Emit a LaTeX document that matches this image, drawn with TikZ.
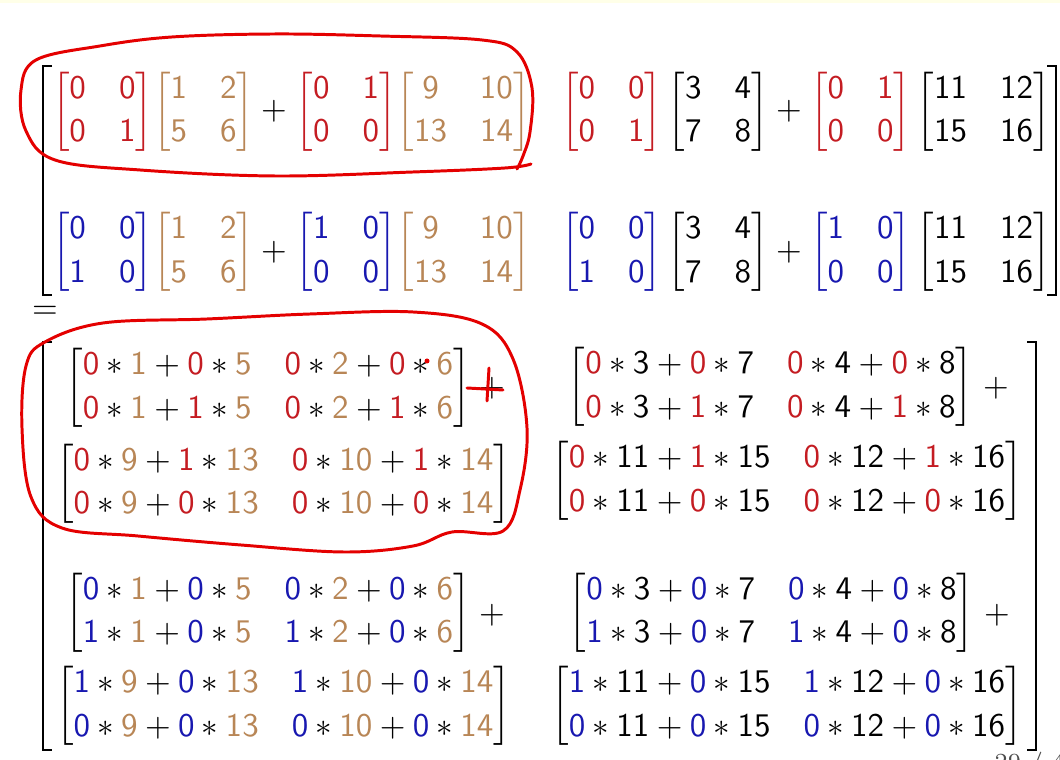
\documentclass[tikz,border=0pt]{standalone}
\usepackage{amsmath}
\usepackage{tikz}
\SetSymbolFont{operators}{normal}{OT1}{cmss}{m}{n}
\definecolor{matred}{RGB}{196,28,34}
\definecolor{mattan}{RGB}{184,134,86}
\definecolor{matblue}{RGB}{24,24,176}
\definecolor{penred}{RGB}{228,0,0}
\definecolor{topbar}{RGB}{255,255,232}
\tikzstyle{mat}=[inner sep=0pt, outer sep=0pt]
\tikzstyle{brack}=[line width=0.5pt]
\tikzstyle{pen}=[draw=penred, line width=0.9pt, line cap=round, line join=round]
\newcommand{\mat}{\node[mat]}
\newcommand{\rc}[1]{\textcolor{matred}{#1}}
\newcommand{\tc}[1]{\textcolor{mattan}{#1}}
\newcommand{\bc}[1]{\textcolor{matblue}{#1}}
\renewcommand{\arraystretch}{1.1}

\begin{document}
\begin{tikzpicture}[x=0.303pt, y=-0.303pt]
\useasboundingbox (0,0) rectangle (1060,760);
\clip (0,0) rectangle (1060,760);
\fill[topbar] (0,0) rectangle (1060,3);

% first block row
    \mat (m11) at (102.5,111.5) {$\rc{\begin{bmatrix}0&0\\0&1\end{bmatrix}}$};
    \mat (a11) at (203.5,111.5) {$\tc{\begin{bmatrix}1&2\\5&6\end{bmatrix}}$};
    \mat (p11) at (274,111.5) {$+$};
    \mat (m12) at (346,111.5) {$\rc{\begin{bmatrix}0&1\\0&0\end{bmatrix}}$};
    \mat (c11) at (463.5,111.5) {$\tc{\begin{bmatrix}9&10\\13&14\end{bmatrix}}$};
    \mat (m13) at (611.5,111.5) {$\rc{\begin{bmatrix}0&0\\0&1\end{bmatrix}}$};
    \mat (b11) at (718,111.5) {$\begin{bmatrix}3&4\\7&8\end{bmatrix}$};
    \mat (p12) at (789,111.5) {$+$};
    \mat (m14) at (860.5,111.5) {$\rc{\begin{bmatrix}0&1\\0&0\end{bmatrix}}$};
    \mat (d11) at (983.5,111.5) {$\begin{bmatrix}11&12\\15&16\end{bmatrix}$};

% second block row
    \mat (m21) at (102.5,252) {$\bc{\begin{bmatrix}0&0\\1&0\end{bmatrix}}$};
    \mat (a21) at (203.5,252) {$\tc{\begin{bmatrix}1&2\\5&6\end{bmatrix}}$};
    \mat (p21) at (274,252) {$+$};
    \mat (m22) at (346,252) {$\bc{\begin{bmatrix}1&0\\0&0\end{bmatrix}}$};
    \mat (c21) at (463.5,252) {$\tc{\begin{bmatrix}9&10\\13&14\end{bmatrix}}$};
    \mat (m23) at (611.5,252) {$\bc{\begin{bmatrix}0&0\\1&0\end{bmatrix}}$};
    \mat (b21) at (718,252) {$\begin{bmatrix}3&4\\7&8\end{bmatrix}$};
    \mat (p22) at (789,252) {$+$};
    \mat (m24) at (860.5,252) {$\bc{\begin{bmatrix}1&0\\0&0\end{bmatrix}}$};
    \mat (d21) at (983.5,252) {$\begin{bmatrix}11&12\\15&16\end{bmatrix}$};

    \draw[brack] (52,66) -- (43,66) -- (43,295) -- (52,295);
    \draw[brack] (1047,66) -- (1056,66) -- (1056,295) -- (1047,295);

\node (eq) at (45,312) {$=$};

% expanded products
    \mat (tl1) at (268,388) {$\begin{bmatrix}\rc0*\tc1+\rc0*\tc5 & \rc0*\tc2+\rc0*\tc6\\ \rc0*\tc1+\rc1*\tc5 & \rc0*\tc2+\rc1*\tc6\end{bmatrix}$};
    \mat (tlp) at (492,388) {$+$};
    \mat (tl2) at (283.5,483.5) {$\begin{bmatrix}\rc0*\tc9+\rc1*\tc{13} & \rc0*\tc{10}+\rc1*\tc{14}\\ \rc0*\tc9+\rc0*\tc{13} & \rc0*\tc{10}+\rc0*\tc{14}\end{bmatrix}$};
    \mat (tr1) at (770.5,387) {$\begin{bmatrix}\rc0*3+\rc0*7 & \rc0*4+\rc0*8\\ \rc0*3+\rc1*7 & \rc0*4+\rc1*8\end{bmatrix}$};
    \mat (trp) at (996,388) {$+$};
    \mat (tr2) at (787,481) {$\begin{bmatrix}\rc0*11+\rc1*15 & \rc0*12+\rc1*16\\ \rc0*11+\rc0*15 & \rc0*12+\rc0*16\end{bmatrix}$};

    \mat (bl1) at (268,612.5) {$\begin{bmatrix}\bc0*\tc1+\bc0*\tc5 & \bc0*\tc2+\bc0*\tc6\\ \bc1*\tc1+\bc0*\tc5 & \bc1*\tc2+\bc0*\tc6\end{bmatrix}$};
    \mat (blp) at (492,615) {$+$};
    \mat (bl2) at (283.5,706) {$\begin{bmatrix}\bc1*\tc9+\bc0*\tc{13} & \bc1*\tc{10}+\bc0*\tc{14}\\ \bc0*\tc9+\bc0*\tc{13} & \bc0*\tc{10}+\bc0*\tc{14}\end{bmatrix}$};
    \mat (br1) at (771.5,612.5) {$\begin{bmatrix}\bc0*3+\bc0*7 & \bc0*4+\bc0*8\\ \bc1*3+\bc0*7 & \bc1*4+\bc0*8\end{bmatrix}$};
    \mat (brp) at (997,615) {$+$};
    \mat (br2) at (787,706) {$\begin{bmatrix}\bc1*11+\bc0*15 & \bc1*12+\bc0*16\\ \bc0*11+\bc0*15 & \bc0*12+\bc0*16\end{bmatrix}$};

    \draw[brack] (52,342) -- (43,342) -- (43,750) -- (52,750);
    \draw[brack] (1027,342) -- (1036,342) -- (1036,750) -- (1027,750);

\node[anchor=north west, inner sep=0pt, font=\scriptsize, text=black!70] (pg) at (994,752) {29 / 40};

% hand annotations
    \draw[pen] plot[smooth, tension=0.6] coordinates {(531,164) (505,168) (413,172) (275,176) (140,170) (55,160) (26,131) (21,90) (36,60) (100,46) (172,37) (275,34) (380,36) (482,40) (517,52) (532,88) (530,132) (523,156) (517,169)};
    \draw[pen] plot[smooth cycle, tension=0.6] coordinates {(45,342) (103,323) (207,319) (310,314) (413,312) (482,324) (513,359) (527,428) (520,490) (503,531) (452,532) (413,546) (344,552) (241,545) (138,536) (62,528) (31,497) (22,428) (26,366)};
    \draw[pen] (467,388) -- (503,390);
    \draw[pen] (489,368) -- (487,401);
    \fill[penred] (427,361) circle (2.5);
\end{tikzpicture}
\end{document}
